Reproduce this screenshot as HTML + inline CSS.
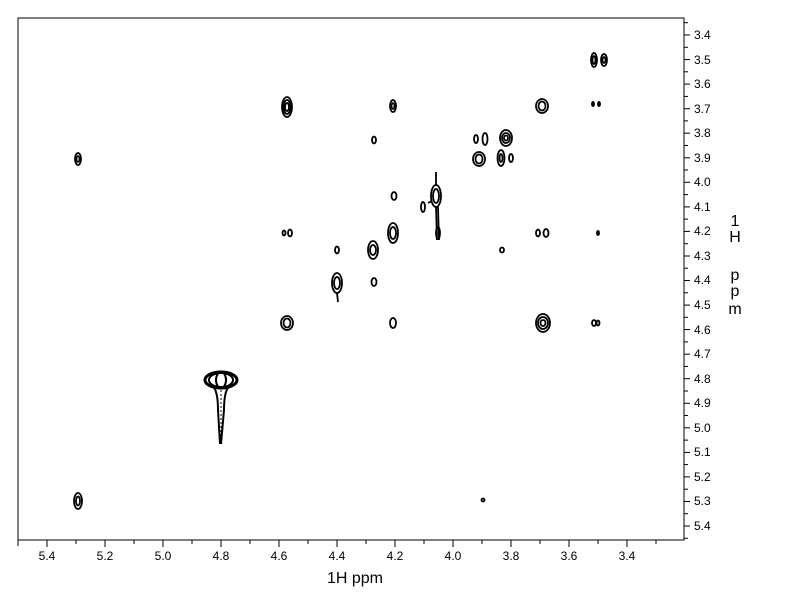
<!DOCTYPE html>
<html><head><meta charset="utf-8"><style>
html,body{margin:0;padding:0;background:#fff;}
svg{display:block;font-family:"Liberation Sans",Arial,sans-serif;}
</style></head><body>
<svg width="792" height="612" viewBox="0 0 792 612" xmlns="http://www.w3.org/2000/svg">
<rect x="18" y="18" width="666" height="522" fill="none" stroke="#000" stroke-width="1"/>
<g stroke="#000" stroke-width="1">
<line x1="18" y1="540" x2="18" y2="546"/>
<line x1="47" y1="540" x2="47" y2="547"/><line x1="76" y1="540" x2="76" y2="544"/>
<line x1="105" y1="540" x2="105" y2="547"/><line x1="134" y1="540" x2="134" y2="544"/>
<line x1="163" y1="540" x2="163" y2="547"/><line x1="192" y1="540" x2="192" y2="544"/>
<line x1="221" y1="540" x2="221" y2="547"/><line x1="250" y1="540" x2="250" y2="544"/>
<line x1="279" y1="540" x2="279" y2="547"/><line x1="308" y1="540" x2="308" y2="544"/>
<line x1="337" y1="540" x2="337" y2="547"/><line x1="366" y1="540" x2="366" y2="544"/>
<line x1="395" y1="540" x2="395" y2="547"/><line x1="424" y1="540" x2="424" y2="544"/>
<line x1="453" y1="540" x2="453" y2="547"/><line x1="482" y1="540" x2="482" y2="544"/>
<line x1="511" y1="540" x2="511" y2="547"/><line x1="540" y1="540" x2="540" y2="544"/>
<line x1="569" y1="540" x2="569" y2="547"/><line x1="598" y1="540" x2="598" y2="544"/>
<line x1="627" y1="540" x2="627" y2="547"/><line x1="656" y1="540" x2="656" y2="544"/>
</g>
<g font-size="12" text-anchor="middle" fill="#000">
<text x="47" y="560">5.4</text><text x="105" y="560">5.2</text><text x="163" y="560">5.0</text>
<text x="221" y="560">4.8</text><text x="279" y="560">4.6</text><text x="337" y="560">4.4</text>
<text x="395" y="560">4.2</text><text x="453" y="560">4.0</text><text x="511" y="560">3.8</text>
<text x="569" y="560">3.6</text><text x="627" y="560">3.4</text>
</g>
<text x="355" y="583" font-size="16" text-anchor="middle">1H ppm</text>
<g stroke="#000" stroke-width="1">
<line x1="684" y1="22.7" x2="688" y2="22.7"/>
<line x1="684" y1="35" x2="690" y2="35"/><line x1="684" y1="47.3" x2="688" y2="47.3"/>
<line x1="684" y1="59.6" x2="690" y2="59.6"/><line x1="684" y1="71.8" x2="688" y2="71.8"/>
<line x1="684" y1="84.1" x2="690" y2="84.1"/><line x1="684" y1="96.4" x2="688" y2="96.4"/>
<line x1="684" y1="108.7" x2="690" y2="108.7"/><line x1="684" y1="120.9" x2="688" y2="120.9"/>
<line x1="684" y1="133.2" x2="690" y2="133.2"/><line x1="684" y1="145.5" x2="688" y2="145.5"/>
<line x1="684" y1="157.8" x2="690" y2="157.8"/><line x1="684" y1="170" x2="688" y2="170"/>
<line x1="684" y1="182.3" x2="690" y2="182.3"/><line x1="684" y1="194.6" x2="688" y2="194.6"/>
<line x1="684" y1="206.9" x2="690" y2="206.9"/><line x1="684" y1="219.1" x2="688" y2="219.1"/>
<line x1="684" y1="231.4" x2="690" y2="231.4"/><line x1="684" y1="243.7" x2="688" y2="243.7"/>
<line x1="684" y1="256" x2="690" y2="256"/><line x1="684" y1="268.2" x2="688" y2="268.2"/>
<line x1="684" y1="280.5" x2="690" y2="280.5"/><line x1="684" y1="292.8" x2="688" y2="292.8"/>
<line x1="684" y1="305.1" x2="690" y2="305.1"/><line x1="684" y1="317.3" x2="688" y2="317.3"/>
<line x1="684" y1="329.6" x2="690" y2="329.6"/><line x1="684" y1="341.9" x2="688" y2="341.9"/>
<line x1="684" y1="354.2" x2="690" y2="354.2"/><line x1="684" y1="366.4" x2="688" y2="366.4"/>
<line x1="684" y1="378.7" x2="690" y2="378.7"/><line x1="684" y1="391" x2="688" y2="391"/>
<line x1="684" y1="403.3" x2="690" y2="403.3"/><line x1="684" y1="415.5" x2="688" y2="415.5"/>
<line x1="684" y1="427.8" x2="690" y2="427.8"/><line x1="684" y1="440.1" x2="688" y2="440.1"/>
<line x1="684" y1="452.4" x2="690" y2="452.4"/><line x1="684" y1="464.6" x2="688" y2="464.6"/>
<line x1="684" y1="476.9" x2="690" y2="476.9"/><line x1="684" y1="489.2" x2="688" y2="489.2"/>
<line x1="684" y1="501.5" x2="690" y2="501.5"/><line x1="684" y1="513.7" x2="688" y2="513.7"/>
<line x1="684" y1="526" x2="690" y2="526"/><line x1="684" y1="538.3" x2="688" y2="538.3"/>
</g>
<g font-size="12" fill="#000">
<text x="694" y="39">3.4</text><text x="694" y="64">3.5</text><text x="694" y="88">3.6</text>
<text x="694" y="113">3.7</text><text x="694" y="137">3.8</text><text x="694" y="162">3.9</text>
<text x="694" y="186">4.0</text><text x="694" y="211">4.1</text><text x="694" y="235">4.2</text>
<text x="694" y="260">4.3</text><text x="694" y="284">4.4</text><text x="694" y="309">4.5</text>
<text x="694" y="334">4.6</text><text x="694" y="358">4.7</text><text x="694" y="383">4.8</text>
<text x="694" y="407">4.9</text><text x="694" y="432">5.0</text><text x="694" y="456">5.1</text>
<text x="694" y="481">5.2</text><text x="694" y="505">5.3</text><text x="694" y="530">5.4</text>
</g>
<g font-size="16" fill="#000" text-anchor="middle">
<text x="735" y="226">1</text><text x="735" y="242">H</text>
<text x="735" y="280">p</text><text x="735" y="296">p</text><text x="735" y="314">m</text>
</g>
<g fill="none" stroke="#000" stroke-width="1.8">
<ellipse cx="594" cy="60" rx="3" ry="7"/><ellipse cx="594" cy="60" rx="1.5" ry="4"/>
<ellipse cx="604" cy="60" rx="3" ry="6"/><ellipse cx="604" cy="60" rx="1.5" ry="3"/>
<ellipse cx="287" cy="107" rx="5" ry="10"/><ellipse cx="287" cy="107" rx="3.5" ry="7"/><ellipse cx="287" cy="107" rx="2" ry="4"/>
<ellipse cx="393" cy="106" rx="3" ry="6"/><ellipse cx="393" cy="106" rx="1.5" ry="3"/>
<ellipse cx="542" cy="106" rx="6" ry="7"/><ellipse cx="542" cy="106" rx="3.5" ry="4.5"/>
<ellipse cx="593" cy="104" rx="1" ry="2"/><ellipse cx="599" cy="104" rx="1" ry="2"/>
<ellipse cx="374" cy="140" rx="2" ry="3.5"/>
<ellipse cx="476" cy="139" rx="2" ry="4"/><ellipse cx="485" cy="139" rx="2.5" ry="6"/>
<ellipse cx="506" cy="138" rx="6" ry="8"/><ellipse cx="506" cy="138" rx="4" ry="5"/><ellipse cx="506" cy="138" rx="2" ry="2.5"/>
<ellipse cx="78" cy="159" rx="3" ry="6"/><ellipse cx="78" cy="159" rx="1.5" ry="3"/>
<ellipse cx="479" cy="159" rx="6" ry="7"/><ellipse cx="479" cy="159" rx="3.5" ry="4.5"/>
<ellipse cx="501" cy="158" rx="3.5" ry="8"/><ellipse cx="501" cy="158" rx="1.5" ry="4"/>
<ellipse cx="511" cy="158" rx="2" ry="4"/>
<ellipse cx="394" cy="196" rx="2.5" ry="4"/>
<ellipse cx="423" cy="207" rx="2" ry="5"/>
<ellipse cx="436" cy="196" rx="5" ry="11"/><ellipse cx="436" cy="196" rx="3" ry="7"/>
<path d="M436 207 L437 240 M438 207 L439 240 M436 172 L436 185 M428 203 L432 201"/>
<ellipse cx="438" cy="233" rx="2" ry="6"/>
<ellipse cx="284" cy="233" rx="1.5" ry="2.5"/><ellipse cx="290" cy="233" rx="2" ry="3.5"/>
<ellipse cx="393" cy="233" rx="5" ry="10"/><ellipse cx="393" cy="233" rx="3" ry="6"/>
<ellipse cx="538" cy="233" rx="2" ry="3.5"/><ellipse cx="546" cy="233" rx="2.5" ry="4"/>
<ellipse cx="598" cy="233" rx="1" ry="2"/>
<ellipse cx="337" cy="250" rx="2" ry="3.5"/>
<ellipse cx="373" cy="250" rx="5" ry="9"/><ellipse cx="373" cy="250" rx="3" ry="5"/>
<ellipse cx="502" cy="250" rx="2" ry="2.5"/>
<ellipse cx="337" cy="283" rx="5" ry="10"/><ellipse cx="337" cy="283" rx="3" ry="6"/>
<path d="M337 293 L338 302"/>
<ellipse cx="374" cy="282" rx="2.5" ry="4"/>
<ellipse cx="287" cy="323" rx="6" ry="7"/><ellipse cx="287" cy="323" rx="3.5" ry="4.5"/>
<ellipse cx="393" cy="323" rx="3" ry="5"/>
<ellipse cx="543" cy="323" rx="7" ry="9"/><ellipse cx="543" cy="323" rx="5" ry="6"/><ellipse cx="543" cy="323" rx="2.5" ry="3"/>
<ellipse cx="594" cy="323" rx="2" ry="3"/><ellipse cx="598" cy="323" rx="1.5" ry="2.5"/>
<ellipse cx="78" cy="501" rx="4" ry="8"/><ellipse cx="78" cy="501" rx="2" ry="4.5"/>
<ellipse cx="483" cy="500" rx="1.5" ry="1.5"/>
</g>
<g fill="none" stroke="#000">
<ellipse cx="221" cy="380" rx="16" ry="8" stroke-width="3"/>
<ellipse cx="221" cy="380" rx="12" ry="7" stroke-width="2"/>
<ellipse cx="221" cy="380" rx="5" ry="8" stroke-width="2"/>
<path d="M213 386 Q218 392 218 410 L220 444 M229 386 Q224 392 224 410 L221 444" stroke-width="2"/>
<path d="M221 390 L221 440" stroke-width="1" stroke-dasharray="2 2"/>
</g>
</svg>
</body></html>
